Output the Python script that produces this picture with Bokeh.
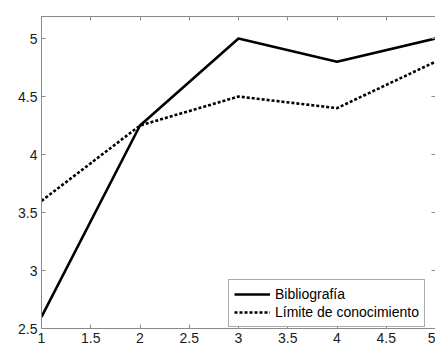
from bokeh.plotting import figure
from bokeh.models import Range1d, FixedTicker, LinearAxis, Legend, LegendItem
from bokeh.embed import file_html
from bokeh.resources import INLINE

x_vals = [1, 2, 3, 4, 5]
bibliografia = [2.6, 4.25, 5.0, 4.8, 5.0]
limite = [3.6, 4.25, 4.5, 4.4, 4.8]
x_ticks = [1, 1.5, 2, 2.5, 3, 3.5, 4, 4.5, 5]
y_ticks = [2.5, 3, 3.5, 4, 4.5, 5]
labels = ["Bibliografía", "Límite de conocimiento"]

FONT = "Liberation Sans"
AXIS_COLOR = "#8a8a8a"

p = figure(width=435, height=347, output_backend="svg", toolbar_location=None,
           x_range=Range1d(1, 5), y_range=Range1d(2.5, 5.19),
           min_border_left=41, min_border_top=16, min_border_bottom=19, min_border_right=0)
p.xgrid.visible = False
p.ygrid.visible = False
p.outline_line_color = None
p.background_fill_color = "white"
p.border_fill_color = "white"

r1 = p.line(x_vals, bibliografia, line_color="black", line_width=2.6)
r2 = p.line(x_vals, limite, line_color="black", line_width=2.6, line_dash="3 2")

def style(ax, ticks, show_labels):
    ax.ticker = FixedTicker(ticks=ticks)
    ax.axis_line_color = AXIS_COLOR
    ax.major_tick_line_color = AXIS_COLOR
    ax.minor_tick_line_color = None
    ax.major_tick_in = 4
    ax.major_tick_out = 0
    ax.major_label_text_font = FONT
    ax.major_label_text_font_size = "14px" if show_labels else "0px"
    ax.major_label_text_color = "#1a1a1a"
    ax.major_label_standoff = 4 if show_labels else 0
    ax.major_label_overrides = {t: f"{t:g}" for t in ticks}
    if not show_labels:
        ax.major_label_text_alpha = 0

style(p.xaxis[0], x_ticks, True)
style(p.yaxis[0], y_ticks, True)

top = LinearAxis()
style(top, x_ticks, False)
p.add_layout(top, "above")
right = LinearAxis()
style(right, y_ticks, False)
p.add_layout(right, "right")

legend = Legend(items=[LegendItem(label=labels[0], renderers=[r1]),
                       LegendItem(label=labels[1], renderers=[r2])],
                location=(187, 1))
legend.label_text_font = FONT
legend.label_text_font_size = "14px"
legend.label_text_color = "black"
legend.glyph_width = 36
legend.glyph_height = 18
legend.label_height = 18
legend.label_standoff = 5
legend.spacing = 0
legend.padding = 5
legend.margin = 0
legend.border_line_color = "#555555"
legend.border_line_width = 1
legend.background_fill_color = "white"
p.add_layout(legend, "center")

open("out.html", "w").write(file_html(p, INLINE))
